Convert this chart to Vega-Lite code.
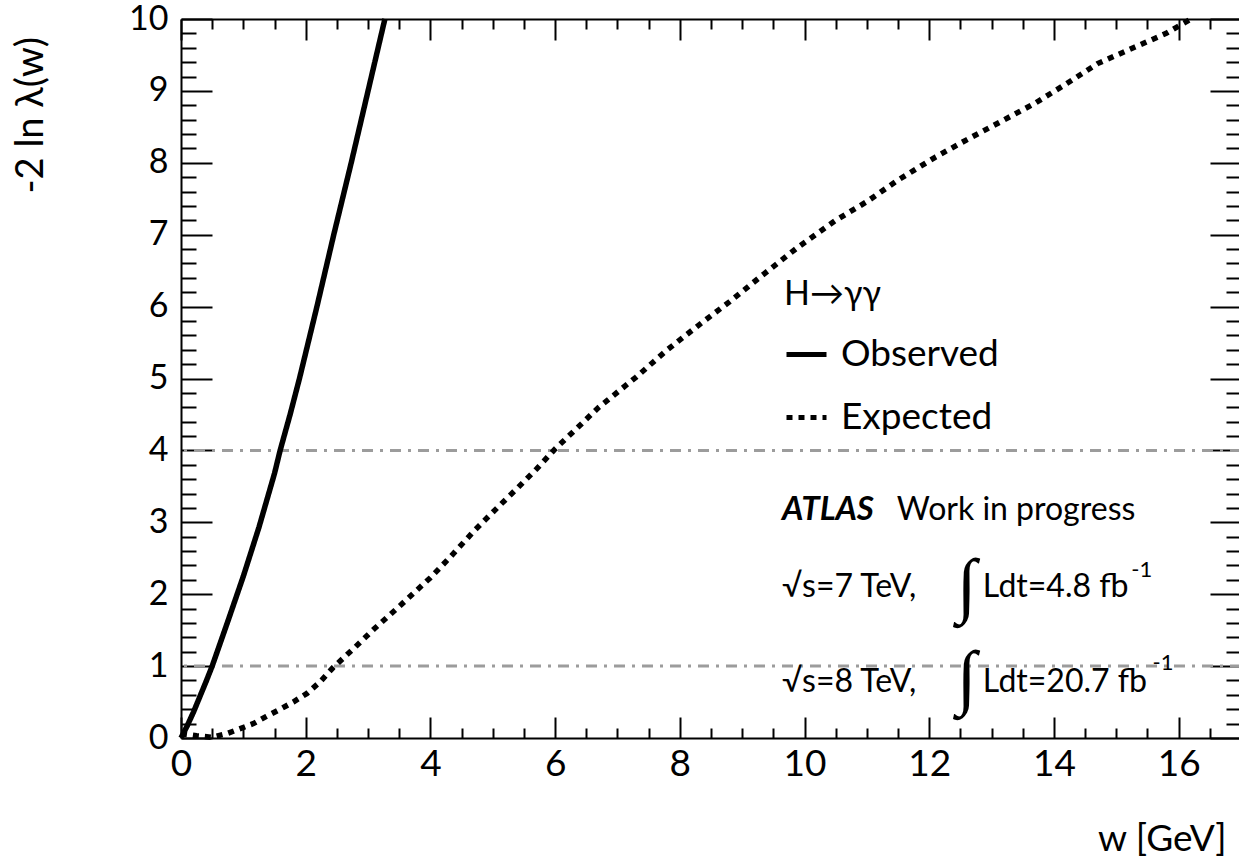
{
  "$schema": "https://vega.github.io/schema/vega-lite/v6.json",
  "width": 1060,
  "height": 719,
  "autosize": {"type": "none"},
  "padding": {"left": 181, "top": 19, "right": 0, "bottom": 121},
  "background": "white",
  "config": {
    "view": {"stroke": null},
    "font": "Lato",
    "axis": {"grid": false, "domainColor": "black", "tickColor": "black", "domainWidth": 2, "tickWidth": 2, "labelColor": "black", "titleColor": "black", "labelFont": "Lato", "titleFont": "Lato", "titleFontWeight": "normal", "labelFlush": false}
  },
  "datasets": {
    "curves": [
      {"w": 0, "v": 0, "series": "Observed"},
      {"w": 0.1, "v": 0.17, "series": "Observed"},
      {"w": 0.2, "v": 0.36, "series": "Observed"},
      {"w": 0.3, "v": 0.57, "series": "Observed"},
      {"w": 0.4, "v": 0.78, "series": "Observed"},
      {"w": 0.5, "v": 1.0, "series": "Observed"},
      {"w": 0.75, "v": 1.62, "series": "Observed"},
      {"w": 1.0, "v": 2.25, "series": "Observed"},
      {"w": 1.25, "v": 2.93, "series": "Observed"},
      {"w": 1.5, "v": 3.68, "series": "Observed"},
      {"w": 1.59, "v": 4.0, "series": "Observed"},
      {"w": 1.75, "v": 4.5, "series": "Observed"},
      {"w": 1.9, "v": 5.0, "series": "Observed"},
      {"w": 2.18, "v": 6.0, "series": "Observed"},
      {"w": 2.45, "v": 7.0, "series": "Observed"},
      {"w": 2.73, "v": 8.0, "series": "Observed"},
      {"w": 3.0, "v": 9.0, "series": "Observed"},
      {"w": 3.27, "v": 10.0, "series": "Observed"},
      {"w": 0, "v": 0.06, "series": "Expected"},
      {"w": 0.25, "v": 0.03, "series": "Expected"},
      {"w": 0.5, "v": 0.01, "series": "Expected"},
      {"w": 0.73, "v": 0.06, "series": "Expected"},
      {"w": 0.95, "v": 0.13, "series": "Expected"},
      {"w": 1.16, "v": 0.2, "series": "Expected"},
      {"w": 1.37, "v": 0.3, "series": "Expected"},
      {"w": 1.59, "v": 0.4, "series": "Expected"},
      {"w": 1.8, "v": 0.5, "series": "Expected"},
      {"w": 2.02, "v": 0.62, "series": "Expected"},
      {"w": 2.23, "v": 0.78, "series": "Expected"},
      {"w": 2.44, "v": 0.98, "series": "Expected"},
      {"w": 2.8, "v": 1.27, "series": "Expected"},
      {"w": 3.1, "v": 1.52, "series": "Expected"},
      {"w": 3.5, "v": 1.83, "series": "Expected"},
      {"w": 4.0, "v": 2.23, "series": "Expected"},
      {"w": 4.3, "v": 2.5, "series": "Expected"},
      {"w": 4.7, "v": 2.88, "series": "Expected"},
      {"w": 5.0, "v": 3.14, "series": "Expected"},
      {"w": 5.4, "v": 3.48, "series": "Expected"},
      {"w": 5.7, "v": 3.74, "series": "Expected"},
      {"w": 6.0, "v": 4.02, "series": "Expected"},
      {"w": 6.4, "v": 4.35, "series": "Expected"},
      {"w": 6.7, "v": 4.6, "series": "Expected"},
      {"w": 7.3, "v": 5.02, "series": "Expected"},
      {"w": 7.8, "v": 5.4, "series": "Expected"},
      {"w": 8.3, "v": 5.74, "series": "Expected"},
      {"w": 8.8, "v": 6.07, "series": "Expected"},
      {"w": 9.3, "v": 6.42, "series": "Expected"},
      {"w": 9.9, "v": 6.83, "series": "Expected"},
      {"w": 10.5, "v": 7.2, "series": "Expected"},
      {"w": 11.0, "v": 7.46, "series": "Expected"},
      {"w": 11.5, "v": 7.76, "series": "Expected"},
      {"w": 12.1, "v": 8.08, "series": "Expected"},
      {"w": 12.6, "v": 8.32, "series": "Expected"},
      {"w": 13.1, "v": 8.55, "series": "Expected"},
      {"w": 13.7, "v": 8.83, "series": "Expected"},
      {"w": 14.2, "v": 9.1, "series": "Expected"},
      {"w": 14.7, "v": 9.38, "series": "Expected"},
      {"w": 15.3, "v": 9.61, "series": "Expected"},
      {"w": 15.8, "v": 9.8, "series": "Expected"},
      {"w": 16.2, "v": 10.0, "series": "Expected"}
    ],
    "refs": [{"v": 1}, {"v": 4}],
    "texts": [
      {"w": 9.64, "v": 3.03, "label": "ATLAS", "kind": "atlas"},
      {"w": 11.48, "v": 3.03, "label": "Work in progress", "kind": "txt"},
      {"w": 9.64, "v": 1.96, "label": "√s=7 TeV,", "kind": "txt"},
      {"w": 12.86, "v": 1.96, "label": "Ldt=4.8 fb", "kind": "txt"},
      {"w": 9.64, "v": 0.64, "label": "√s=8 TeV,", "kind": "txt"},
      {"w": 12.86, "v": 0.64, "label": "Ldt=20.7 fb", "kind": "txt"},
      {"w": 15.24, "v": 2.24, "label": "-1", "kind": "sup"},
      {"w": 15.58, "v": 0.95, "label": "-1", "kind": "sup"},
      {"w": 12.6, "v": 2.1, "label": "∫", "kind": "int"},
      {"w": 12.6, "v": 0.82, "label": "∫", "kind": "int"}
    ]
  },
  "layer": [
    {
      "data": {"name": "refs"},
      "mark": {"type": "rule", "color": "#9c9c9c", "strokeWidth": 3, "strokeDash": [11, 7, 3, 7]},
      "encoding": {
        "y": {"field": "v", "type": "quantitative", "scale": {"domain": [0, 10], "nice": false}, "axis": null}
      }
    },
    {
      "data": {"name": "curves"},
      "mark": {"type": "line", "color": "black", "strokeWidth": 5.5, "strokeCap": "butt"},
      "encoding": {
        "x": {"field": "w", "type": "quantitative", "scale": {"domain": [0, 17], "nice": false},
          "axis": {"orient": "bottom", "values": [0, 2, 4, 6, 8, 10, 12, 14, 16], "ticks": false, "labelFontSize": 37, "labelPadding": 8, "domain": true,
            "title": "w [GeV]", "titleFontSize": 37, "titleAlign": "right", "titleAnchor": "end", "titleX": 1045, "titleY": 112, "titleBaseline": "alphabetic"}},
        "y": {"field": "v", "type": "quantitative", "scale": {"domain": [0, 10], "nice": false},
          "axis": {"orient": "left", "values": [0, 1, 2, 3, 4, 5, 6, 7, 8, 9, 10], "ticks": false, "labelFontSize": 34, "labelPadding": 13, "domain": true,
            "title": "-2 ln λ(w)", "titleFontSize": 38, "titleAngle": 270, "titleAlign": "left", "titleX": -150, "titleY": 174, "titleBaseline": "middle"}},
        "strokeDash": {"field": "series", "type": "nominal",
          "scale": {"domain": ["Observed", "Expected"], "range": [[1, 0], [6, 6]]},
          "legend": {"orient": "none", "legendX": 603, "legendY": 259, "title": "H→γγ", "titleFontSize": 34, "titleFont": "Lato", "titleFontWeight": "normal", "titleColor": "black", "titlePadding": 20,
            "labelFontSize": 37, "labelFont": "Lato", "labelColor": "black", "labelOffset": 12, "symbolType": "stroke", "symbolSize": 1600, "symbolStrokeWidth": 5, "symbolStrokeColor": "black", "rowPadding": 22, "padding": 0}}
      }
    },
    {
      "data": {"name": "texts"},
      "transform": [{"filter": "datum.kind == 'txt'"}],
      "mark": {"type": "text", "align": "left", "baseline": "alphabetic", "fontSize": 32, "font": "Lato", "color": "black"},
      "encoding": {
        "x": {"field": "w", "type": "quantitative", "scale": {"domain": [0, 17], "nice": false},
          "axis": {"orient": "bottom", "values": [0.5, 1, 1.5, 2.5, 3, 3.5, 4.5, 5, 5.5, 6.5, 7, 7.5, 8.5, 9, 9.5, 10.5, 11, 11.5, 12.5, 13, 13.5, 14.5, 15, 15.5, 16.5], "labels": false, "tickSize": -10, "domain": false, "title": null}},
        "y": {"field": "v", "type": "quantitative", "scale": {"domain": [0, 10], "nice": false},
          "axis": {"orient": "left", "values": [0.2, 0.4, 0.6, 0.8, 1.2, 1.4, 1.6, 1.8, 2.2, 2.4, 2.6, 2.8, 3.2, 3.4, 3.6, 3.8, 4.2, 4.4, 4.6, 4.8, 5.2, 5.4, 5.6, 5.8, 6.2, 6.4, 6.6, 6.8, 7.2, 7.4, 7.6, 7.8, 8.2, 8.4, 8.6, 8.8, 9.2, 9.4, 9.6, 9.8], "labels": false, "tickSize": -15, "domain": false, "title": null}},
        "text": {"field": "label"}
      }
    },
    {
      "data": {"name": "texts"},
      "transform": [{"filter": "datum.kind == 'atlas'"}],
      "mark": {"type": "text", "align": "left", "baseline": "alphabetic", "fontSize": 33, "font": "Lato", "fontWeight": "bold", "fontStyle": "italic", "color": "black"},
      "encoding": {
        "x": {"field": "w", "type": "quantitative", "scale": {"domain": [0, 17], "nice": false},
          "axis": {"orient": "top", "values": [0, 2, 4, 6, 8, 10, 12, 14, 16], "labels": false, "tickSize": -21, "domain": true, "title": null}},
        "y": {"field": "v", "type": "quantitative", "scale": {"domain": [0, 10], "nice": false},
          "axis": {"orient": "right", "values": [0, 1, 2, 3, 4, 5, 6, 7, 8, 9, 10], "labels": false, "tickSize": -31, "domain": true, "title": null}},
        "text": {"field": "label"}
      }
    },
    {
      "data": {"name": "texts"},
      "transform": [{"filter": "datum.kind == 'sup'"}],
      "mark": {"type": "text", "align": "left", "baseline": "alphabetic", "fontSize": 22, "font": "Lato", "color": "black"},
      "encoding": {
        "x": {"field": "w", "type": "quantitative", "scale": {"domain": [0, 17], "nice": false},
          "axis": {"orient": "top", "values": [0.5, 1, 1.5, 2.5, 3, 3.5, 4.5, 5, 5.5, 6.5, 7, 7.5, 8.5, 9, 9.5, 10.5, 11, 11.5, 12.5, 13, 13.5, 14.5, 15, 15.5, 16.5], "labels": false, "tickSize": -10, "domain": false, "title": null}},
        "y": {"field": "v", "type": "quantitative", "scale": {"domain": [0, 10], "nice": false},
          "axis": {"orient": "right", "values": [0.2, 0.4, 0.6, 0.8, 1.2, 1.4, 1.6, 1.8, 2.2, 2.4, 2.6, 2.8, 3.2, 3.4, 3.6, 3.8, 4.2, 4.4, 4.6, 4.8, 5.2, 5.4, 5.6, 5.8, 6.2, 6.4, 6.6, 6.8, 7.2, 7.4, 7.6, 7.8, 8.2, 8.4, 8.6, 8.8, 9.2, 9.4, 9.6, 9.8], "labels": false, "tickSize": -15, "domain": false, "title": null}},
        "text": {"field": "label"}
      }
    },
    {
      "data": {"name": "texts"},
      "transform": [{"filter": "datum.kind == 'int'"}],
      "mark": {"type": "text", "align": "center", "baseline": "middle", "fontSize": 72, "font": "Liberation Serif", "color": "black"},
      "encoding": {
        "x": {"field": "w", "type": "quantitative", "scale": {"domain": [0, 17], "nice": false},
          "axis": {"orient": "bottom", "values": [0, 2, 4, 6, 8, 10, 12, 14, 16], "labels": false, "tickSize": -21, "domain": false, "title": null}},
        "y": {"field": "v", "type": "quantitative", "scale": {"domain": [0, 10], "nice": false},
          "axis": {"orient": "left", "values": [0, 1, 2, 3, 4, 5, 6, 7, 8, 9, 10], "labels": false, "tickSize": -31, "domain": false, "title": null}},
        "text": {"field": "label"}
      }
    }
  ],
  "resolve": {"axis": {"x": "independent", "y": "independent"}}
}
